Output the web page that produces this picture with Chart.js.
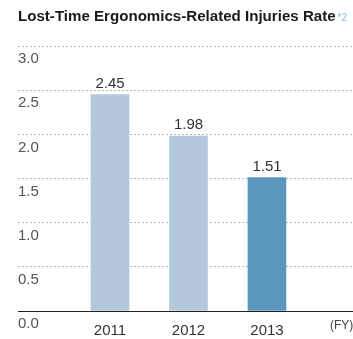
<!DOCTYPE html>
<html>
<head>
<meta charset="utf-8">
<script src="https://cdn.jsdelivr.net/npm/chart.js@4/dist/chart.umd.min.js"></script>
<style>
html,body{margin:0;padding:0;background:#fff;}
#wrap{width:353px;height:339px;position:relative;}
</style>
</head>
<body>
<div id="wrap"><canvas id="c" width="353" height="339"></canvas></div>
<script>
const years = ['2011', '2012', '2013'];
const rates = [2.45, 1.98, 1.51];
const barColors = ['#b3c8dd', '#b3c8dd', '#5a96bc'];
const yTicks = [0, 0.5, 1.0, 1.5, 2.0, 2.5, 3.0];
const titleText = 'Lost-Time Ergonomics-Related Injuries Rate';
const noteMark = '*2';
const unitLabel = '(FY)';

const FONT = '"Liberation Sans", Arial, Helvetica, sans-serif';
const TITLE_SIZE = 15.1;
const X_MIN = -1.172, X_MAX = 3.096;

const extras = {
  id: 'extras',
  afterDraw(chart) {
    const ctx = chart.ctx;
    ctx.save();
    const meta = chart.getDatasetMeta(0);
    ctx.font = '15px ' + FONT;
    ctx.fillStyle = '#333';
    ctx.textAlign = 'center';
    ctx.textBaseline = 'middle';
    meta.data.forEach((bar, i) => {
      ctx.fillText(rates[i].toFixed(2), bar.x, bar.y - 11);
    });
    const t = chart.titleBlock;
    ctx.font = 'bold ' + TITLE_SIZE + 'px ' + FONT;
    const w = ctx.measureText(titleText).width;
    ctx.font = '10px ' + FONT;
    ctx.fillStyle = '#86b6dc';
    ctx.textAlign = 'left';
    ctx.textBaseline = 'middle';
    ctx.fillText(noteMark, t.left + w + 2, t.top + t.height / 2 - 5);
    const xs = chart.scales.x;
    ctx.font = '12px ' + FONT;
    ctx.fillStyle = '#444';
    ctx.fillText(unitLabel, 330, xs.top + 15);
    ctx.restore();
  }
};

new Chart(document.getElementById('c'), {
  type: 'bar',
  data: {
    datasets: [{
      data: rates.map((v, i) => ({x: i, y: v})),
      backgroundColor: barColors,
      borderWidth: 0,
      barThickness: 38
    }]
  },
  options: {
    responsive: false,
    animation: false,
    layout: {padding: {left: 18, right: 0, top: 0, bottom: 0}},
    plugins: {
      legend: {display: false},
      tooltip: {enabled: false},
      title: {
        display: true,
        text: titleText,
        align: 'start',
        color: '#1a1a1a',
        font: {family: FONT, size: TITLE_SIZE, weight: 'bold'},
        padding: {top: 8, bottom: 20}
      }
    },
    scales: {
      x: {
        type: 'linear',
        offset: false,
        bounds: 'data',
        min: X_MIN,
        max: X_MAX,
        afterDataLimits(scale) {
          scale.min = X_MIN;
          scale.max = X_MAX;
        },
        afterBuildTicks(scale) {
          scale.ticks = years.map((y, i) => ({value: i}));
        },
        afterFit(scale) {
          scale.height = 28;
        },
        grid: {display: false, drawTicks: false},
        border: {display: true, color: '#222', width: 1},
        ticks: {
          autoSkip: false,
          maxRotation: 0,
          padding: 11,
          color: '#333',
          font: {family: FONT, size: 15},
          callback: (v) => years[v]
        }
      },
      y: {
        min: 0,
        max: 3,
        afterBuildTicks(scale) {
          scale.ticks = yTicks.map(v => ({value: v}));
        },
        afterFit(scale) {
          scale.width = 0;
        },
        grid: {color: '#b8b8b8', drawTicks: false, lineWidth: 1},
        border: {display: false, dash: [2, 2]},
        ticks: {
          mirror: true,
          padding: 0,
          labelOffset: 13,
          color: '#555',
          font: {family: FONT, size: 15},
          callback: (v) => Number(v).toFixed(1)
        }
      }
    }
  },
  plugins: [extras]
});
</script>
</body>
</html>
